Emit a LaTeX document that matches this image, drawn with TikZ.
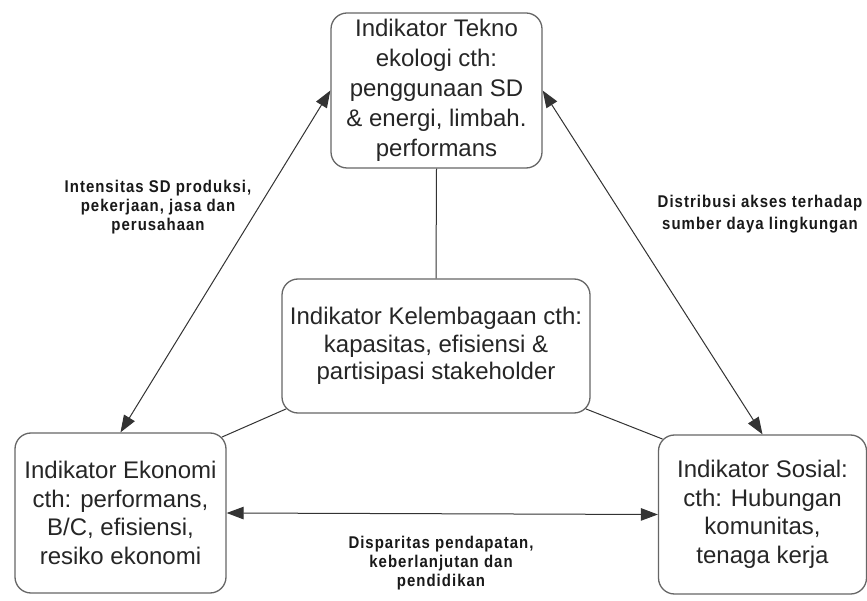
\documentclass[tikz,border=0pt]{standalone}
\usepackage{fontspec}
\setmainfont{Liberation Sans}
\newfontfamily\lblfont[FakeStretch=0.88,LetterSpace=6]{Liberation Sans}
\usetikzlibrary{arrows.meta,calc}
\begin{document}
\begin{tikzpicture}[x=1pt,y=-1pt,
  box/.style={draw=black!60, line width=1.3pt, rounded corners=16pt, align=center,
    inner sep=0pt, text=black!85},
  boxtext/.style={font=\fontsize{24}{#1}\selectfont},
  link/.style={draw=black!80, line width=1pt},
  twoway/.style={link, {Triangle[length=17pt,width=12.5pt]}-{Triangle[length=17pt,width=12.5pt]}},
  lbl/.style={align=center, inner sep=0pt, text=black!90, font=\lblfont\bfseries\fontsize{17}{#1}\selectfont}]
\useasboundingbox (0,0) rectangle (867,601);
\fill[white] (0,0) rectangle (867,601);

% indicator boxes
\node[box, boxtext=30, minimum width=211pt, minimum height=155pt] (tek) at (436.5,90.5)
  {Indikator Tekno\\ekologi cth:\\penggunaan SD\\\& energi, limbah.\\performans};
\node[box, boxtext=27.5, minimum width=308pt, minimum height=134pt] (mid) at (436,346)
  {Indikator Kelembagaan cth:\\kapasitas, efisiensi \&\\partisipasi stakeholder};
\node[box, boxtext=28.5, minimum width=211pt, minimum height=160pt] (eko) at (120.5,513)
  {Indikator Ekonomi\\cth: performans,\\B/C, efisiensi,\\resiko ekonomi};
\node[box, boxtext=28.5, minimum width=208pt, minimum height=159pt] (sos) at (762.5,514.5)
  {Indikator Sosial:\\cth: Hubungan\\komunitas,\\tenaga kerja};

% points on the rounded corners
\coordinate (m-sw) at ($(mid.south west)+(4.7,-4.7)$);
\coordinate (m-se) at ($(mid.south east)+(-4.7,-4.7)$);
\coordinate (e-ne) at ($(eko.north east)+(-4.7,4.7)$);
\coordinate (s-nw) at ($(sos.north west)+(4.7,4.7)$);

% plain links to the central box
\draw[link] (tek.south) -- (mid.north);
\draw[link] (m-sw) -- (e-ne);
\draw[link] (m-se) -- (s-nw);

% two-way relations
\draw[twoway] (eko.north) -- (tek.west);
\draw[twoway] (sos.north) -- (tek.east);
\draw[twoway] (eko.east) -- (sos.west);

% relation labels
\node[lbl=19] (lab-eko) at (158,207) {Intensitas SD produksi,\\pekerjaan, jasa dan\\perusahaan};
\node[lbl=22] (lab-sos) at (760,214) {Distribusi akses terhadap\\sumber daya lingkungan};
\node[lbl=19] (lab-bot) at (441,563) {Disparitas pendapatan,\\keberlanjutan dan\\pendidikan};
\end{tikzpicture}
\end{document}
